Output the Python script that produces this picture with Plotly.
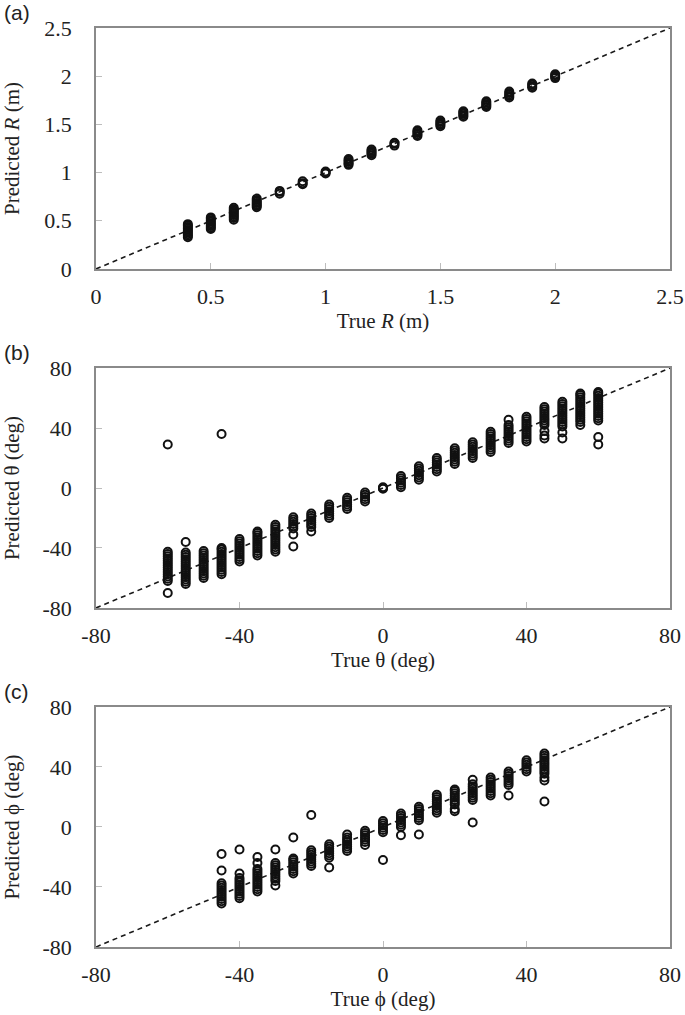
import plotly.graph_objects as go
from plotly.subplots import make_subplots

# (a) range R, metres
r_true = [0.4, 0.5, 0.6, 0.7, 0.8, 0.9, 1.0, 1.1, 1.2, 1.3, 1.4, 1.5, 1.6, 1.7, 1.8, 1.9, 2.0]
r_pred = [
    [0.33, 0.345, 0.36, 0.375, 0.39, 0.405, 0.42, 0.435, 0.45, 0.465],
    [0.415, 0.43, 0.445, 0.46, 0.475, 0.49, 0.505, 0.52, 0.535],
    [0.51, 0.53, 0.545, 0.56, 0.575, 0.59, 0.605, 0.62, 0.635],
    [0.64, 0.655, 0.67, 0.685, 0.70, 0.715, 0.73],
    [0.78, 0.80, 0.81],
    [0.88, 0.89, 0.91],
    [0.99, 1.00, 1.01],
    [1.08, 1.095, 1.11, 1.125, 1.14],
    [1.18, 1.195, 1.21, 1.225, 1.24],
    [1.28, 1.30, 1.31],
    [1.38, 1.395, 1.41, 1.425, 1.44],
    [1.48, 1.495, 1.51, 1.525, 1.54],
    [1.58, 1.595, 1.61, 1.625, 1.635],
    [1.68, 1.695, 1.71, 1.725, 1.74],
    [1.78, 1.795, 1.81, 1.825, 1.84],
    [1.88, 1.895, 1.91, 1.925],
    [1.98, 1.995, 2.01, 2.02],
]

# (b) theta, degrees
theta_true = [-60, -55, -50, -45, -40, -35, -30, -25, -20, -15, -10, -5, 0,
              5, 10, 15, 20, 25, 30, 35, 40, 45, 50, 55, 60]
theta_pred = [
    [-70, -62, -60.5, -59, -57.5, -56, -54.5, -53, -51.5, -50, -48.5, -47, -45.5, -44, -42.5, 29],
    [-64, -62.5, -61, -59.5, -58, -56.5, -55, -53.5, -52, -50.5, -49, -47.5, -46, -44.5, -43, -36],
    [-60, -58.5, -57, -55.5, -54, -52.5, -51, -49.5, -48, -46.5, -45, -43.5, -42],
    [-57.5, -56, -54.5, -53, -51.5, -50, -48.5, -47, -45.5, -44, -42.5, -41, -40, 36],
    [-49, -47.5, -46, -44.5, -43, -41.5, -40, -38.5, -37, -35.5, -34],
    [-45, -43.5, -42, -40.5, -39, -37.5, -36, -34.5, -33, -31.5, -30, -29],
    [-42.5, -41, -39.5, -38, -36.5, -35, -33.5, -32, -30.5, -29, -27.5, -26, -24.5],
    [-39, -31, -27, -25.5, -24, -22.5, -21, -19.5],
    [-29, -26, -24.5, -23, -21.5, -20, -18.5, -17],
    [-20, -18.5, -17, -15.5, -14, -12.5, -11],
    [-14, -12.5, -11, -9.5, -8, -6.5],
    [-9, -7.5, -6, -4.5, -3],
    [-0.5, 0, 0.5],
    [0.5, 2, 3.5, 5, 6.5, 8],
    [5.5, 7, 8.5, 10, 11.5, 13, 14.5],
    [11, 12.5, 14, 15.5, 17, 18.5, 20],
    [16, 17.5, 19, 20.5, 22, 23.5, 25, 26.5],
    [20, 21.5, 23, 24.5, 26, 27.5, 29, 30.5],
    [24, 25.5, 27, 28.5, 30, 31.5, 33, 34.5, 36, 37.5],
    [30, 31.5, 33, 34.5, 36, 37.5, 39, 40.5, 42, 45.5],
    [31, 32.5, 34, 35.5, 37, 38.5, 40, 41.5, 43, 44.5, 46, 47.5],
    [33, 35, 38, 42, 43.5, 45, 46.5, 48, 49.5, 51, 52.5, 54],
    [33, 37, 41, 42.5, 44, 45.5, 47, 48.5, 50, 51.5, 53, 54.5, 56, 57.5],
    [42, 44, 45.5, 47, 48.5, 50, 51.5, 53, 54.5, 56, 57.5, 59, 60.5, 62, 63],
    [29, 34, 45, 46.5, 48, 49.5, 51, 52.5, 54, 55.5, 57, 58.5, 60, 61.5, 63, 64],
]

# (c) phi, degrees
phi_true = [-45, -40, -35, -30, -25, -20, -15, -10, -5, 0,
            5, 10, 15, 20, 25, 30, 35, 40, 45]
phi_pred = [
    [-51, -49.5, -48, -46.5, -45, -43.5, -42, -40.5, -39, -37.5, -29, -18],
    [-47.5, -46, -44.5, -43, -41.5, -40, -38.5, -37, -35.5, -34, -31, -15],
    [-43, -41.5, -40, -38.5, -37, -35.5, -34, -32.5, -31, -29.5, -28, -24, -20],
    [-39, -36, -34.5, -33, -31.5, -30, -28.5, -27, -25.5, -24, -15],
    [-31, -29.5, -28, -26.5, -25, -23.5, -22, -21, -7],
    [-26, -24.5, -23, -21.5, -20, -18.5, -17, -15.5, 8],
    [-27, -20.5, -19, -17.5, -16, -14.5, -13, -11.5],
    [-16, -14.5, -13, -11.5, -10, -8.5, -7, -5],
    [-12, -10, -8.5, -7, -5.5, -4, -2.5],
    [-22, -3.5, -2, -0.5, 1, 2.5, 4],
    [-5.5, 0, 1.5, 3, 4.5, 6, 7.5, 9],
    [-5, 4.5, 6, 7.5, 9, 10.5, 12, 13.5],
    [9.5, 11, 12.5, 14, 15.5, 17, 18.5, 20, 21.5],
    [10.5, 12, 15, 16.5, 18, 19.5, 21, 22.5, 24, 25],
    [3, 18, 19.5, 21, 22.5, 24, 25.5, 27, 28.5, 31.5],
    [21, 22.5, 24, 25.5, 27, 28.5, 30, 31.5, 33],
    [21, 28, 29.5, 31, 32.5, 34, 35.5, 37],
    [37, 38.5, 40, 41.5, 43, 44.5],
    [17, 31, 33, 35.5, 37, 38.5, 40, 41.5, 43, 44.5, 46, 47.5, 49],
]

r_line = [0, 2.5]
deg_line = [-80, 80]
r_ticks = [0, 0.5, 1, 1.5, 2, 2.5]
r_ticktext = ["0", "0.5", "1", "1.5", "2", "2.5"]
deg_ticks = [-80, -40, 0, 40, 80]
deg_ticktext = ["-80", "-40", "0", "40", "80"]

panels = [
    ("(a)", r_true, r_pred, r_line, r_ticks, r_ticktext,
     "True <i>R</i> (m)", "Predicted <i>R</i> (m)"),
    ("(b)", theta_true, theta_pred, deg_line, deg_ticks, deg_ticktext,
     "True θ (deg)", "Predicted θ (deg)"),
    ("(c)", phi_true, phi_pred, deg_line, deg_ticks, deg_ticktext,
     "True ϕ (deg)", "Predicted ϕ (deg)"),
]

fig = make_subplots(rows=3, cols=1)

domains = [[0.7378, 1.0], [0.3689, 0.630], [0.0, 0.2612]]
label_y = [1.0174, 0.6474, 0.2785]
serif = "Liberation Serif, Times New Roman, serif"
frame = "#8a8a8a"

for i, (tag, xt, yp, line, ticks, ticktext, xtitle, ytitle) in enumerate(panels):
    row = i + 1
    xs, ys = [], []
    for x, group in zip(xt, yp):
        for y in group:
            xs.append(x)
            ys.append(y)

    # 1:1 reference line
    fig.add_trace(go.Scatter(x=line, y=line, mode="lines",
                             line=dict(color="#1a1a1a", width=1.6, dash="5px,4px"),
                             showlegend=False, hoverinfo="skip"), row=row, col=1)
    fig.add_trace(go.Scatter(x=xs, y=ys, mode="markers",
                             marker=dict(symbol="circle-open", size=8, color="#111111",
                                         line=dict(width=2, color="#111111")),
                             showlegend=False), row=row, col=1)

    axis_common = dict(
        range=[line[0], line[1]], tickvals=ticks, ticktext=ticktext,
        showline=True, linecolor=frame, linewidth=1.5, mirror=True,
        ticks="inside", ticklen=6, tickcolor="#bdbdbd", tickwidth=1,
        showgrid=False, zeroline=False, automargin=False,
        tickfont=dict(family=serif, size=22, color="#222222"),
    )
    fig.update_xaxes(axis_common, row=row, col=1, ticklabelstandoff=7,
                     title=dict(text=xtitle, standoff=2,
                                font=dict(family=serif, size=21, color="#222222")))
    fig.update_yaxes(axis_common, row=row, col=1, domain=domains[i], ticklabelstandoff=18,
                     title=dict(text=ytitle, standoff=19,
                                font=dict(family=serif, size=21, color="#222222")))

    fig.add_annotation(text=tag, xref="paper", yref="paper", x=-0.1638, y=label_y[i],
                       xanchor="left", yanchor="middle", showarrow=False,
                       font=dict(family="Liberation Sans, Arial, sans-serif", size=21,
                                 color="#222222"))

fig.update_layout(
    width=685, height=1015,
    margin=dict(l=96, r=15, t=28, b=68),
    plot_bgcolor="white", paper_bgcolor="white",
)

# drop the default 8px page margin so the figure fills the window exactly
fig.write_html("out.html", config={"displayModeBar": False},
               post_script="document.body.style.margin='0';document.body.style.overflow='hidden';")
